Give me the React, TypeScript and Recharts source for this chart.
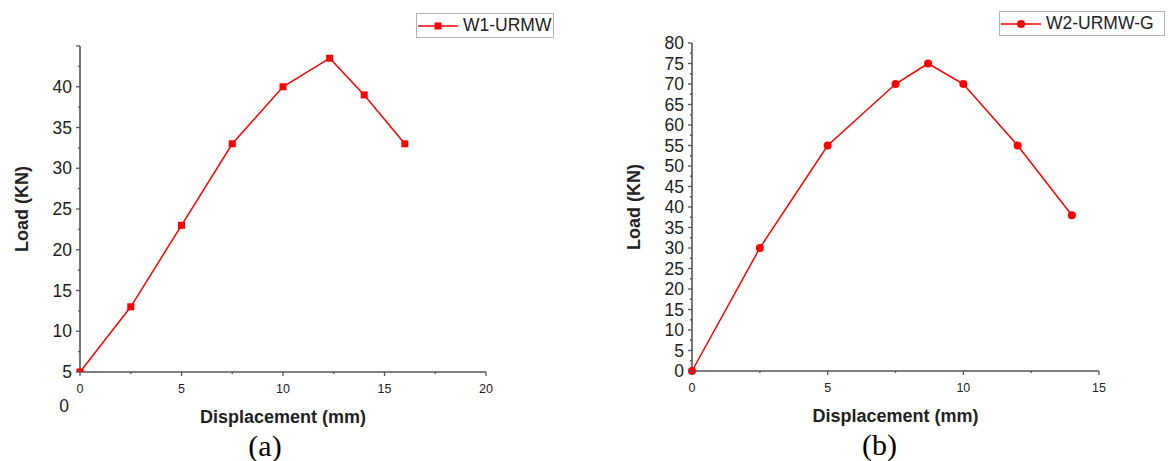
import React from 'react';
import { LineChart, Line, XAxis, YAxis, Legend } from 'recharts';

// ---- data ----
const leftDisp = [0, 2.5, 5, 7.5, 10, 12.3, 14, 16];
const leftLoad = [5, 13, 23, 33, 40, 43.5, 39, 33];
const rightDisp = [0, 2.5, 5, 7.5, 8.7, 10, 12, 14];
const rightLoad = [0, 30, 55, 70, 75, 70, 55, 38];

const leftName = 'W1-URMW';
const rightName = 'W2-URMW-G';

const leftXTicks = [0, 2.5, 5, 7.5, 10, 12.5, 15, 17.5, 20];
const leftXLabels = [0, 5, 10, 15, 20];
const leftYTicks = [5, 7.5, 10, 12.5, 15, 17.5, 20, 22.5, 25, 27.5, 30, 32.5, 35, 37.5, 40, 42.5, 45];
const leftYLabels = [5, 10, 15, 20, 25, 30, 35, 40];

const rightXTicks = [0, 2.5, 5, 7.5, 10, 12.5, 15];
const rightXLabels = [0, 5, 10, 15];
const rightYTicks = [0, 2.5, 5, 7.5, 10, 12.5, 15, 17.5, 20, 22.5, 25, 27.5, 30, 32.5, 35, 37.5, 40, 42.5, 45, 47.5, 50, 52.5, 55, 57.5, 60, 62.5, 65, 67.5, 70, 72.5, 75, 77.5, 80];
const rightYLabels = [0, 5, 10, 15, 20, 25, 30, 35, 40, 45, 50, 55, 60, 65, 70, 75, 80];

const xTitle = 'Displacement (mm)';
const yTitle = 'Load (KN)';

const RED = '#ff0000';
const AXIS = '#555555';
const TEXT = '#222222';
const SANS = '"Liberation Sans", Arial, sans-serif';
const SERIF = '"Liberation Serif", "Times New Roman", serif';

const leftData = leftDisp.map((x, i) => ({ x, y: leftLoad[i] }));
const rightData = rightDisp.map((x, i) => ({ x, y: rightLoad[i] }));

const makeYTick = (labels: number[]) => (props: any) => {
  const { x, y, payload } = props;
  const v = payload.value;
  const major = Math.abs(v % 5) < 1e-9;
  return (
    <g>
      <line x1={x} x2={x - (major ? 4 : 2)} y1={y} y2={y} stroke={AXIS} strokeWidth={1.3} />
      {labels.includes(v) && (
        <text x={x - 8} y={y} textAnchor="end" dominantBaseline="central" fontFamily={SANS} fontSize={17.5} fill={TEXT}>
          {v}
        </text>
      )}
    </g>
  );
};

const makeXTick = (labels: number[]) => (props: any) => {
  const { x, y, payload } = props;
  const v = payload.value;
  const major = Math.abs(v % 5) < 1e-9;
  return (
    <g>
      <line x1={x} x2={x} y1={y} y2={y + (major ? 4 : 2)} stroke={AXIS} strokeWidth={1.3} />
      {labels.includes(v) && (
        <text x={x} y={y + 17} textAnchor="middle" dominantBaseline="central" fontFamily={SANS} fontSize={12.5} fill={TEXT}>
          {v}
        </text>
      )}
    </g>
  );
};

const xLabel = (caption: string, captionDx: number, extra?: (vb: any) => React.ReactNode) => (props: any) => {
  const vb = props.viewBox;
  const cx = vb.x + vb.width / 2;
  return (
    <g>
      <text x={cx} y={vb.y + 45} textAnchor="middle" dominantBaseline="central" fontFamily={SANS} fontWeight="bold" fontSize={18} fill={TEXT}>
        {xTitle}
      </text>
      <text x={cx + captionDx} y={vb.y + 84} textAnchor="middle" fontFamily={SERIF} fontSize={30} fill="#000">
        {caption}
      </text>
      {extra ? extra(vb) : null}
    </g>
  );
};

const yLabel = (px: number) => (props: any) => {
  const vb = props.viewBox;
  const cy = vb.y + vb.height / 2;
  return (
    <text
      x={px}
      y={cy}
      transform={`rotate(-90 ${px} ${cy})`}
      textAnchor="middle"
      dominantBaseline="central"
      fontFamily={SANS}
      fontWeight="bold"
      fontSize={18}
      fill={TEXT}
    >
      {yTitle}
    </text>
  );
};

const LegendBox = ({ label, width, square }: { label: string; width: number; square: boolean }) => (
  <div
    style={{
      boxSizing: 'border-box',
      width,
      height: 25,
      border: '1px solid #b4b4b4',
      background: '#fff',
      display: 'flex',
      alignItems: 'center',
      fontFamily: SANS,
      fontSize: 17.5,
      color: TEXT,
      whiteSpace: 'nowrap',
    }}
  >
    <svg width={40} height={12} style={{ marginLeft: 1, marginRight: 5, flex: 'none' }}>
      <line x1={0} x2={40} y1={6} y2={6} stroke={RED} strokeWidth={1.5} />
      {square ? <rect x={16.5} y={2.5} width={7} height={7} fill={RED} /> : <circle cx={20} cy={6} r={4} fill={RED} />}
    </svg>
    <span>{label}</span>
  </div>
);

const squareDot = (props: any) => {
  const { cx, cy, index } = props;
  return <rect key={`sq-${index}`} x={cx - 3.5} y={cy - 3.5} width={7} height={7} fill={RED} />;
};

export default function App() {
  return (
    <div style={{ position: 'absolute', left: 0, top: 0, width: 1168, height: 461, background: '#fff' }}>
      <div style={{ position: 'absolute', left: 0, top: 0 }}>
        <LineChart width={580} height={461} data={leftData} margin={{ top: 46, right: 94, bottom: 59, left: 20 }}>
          <XAxis
            type="number"
            dataKey="x"
            domain={[0, 20]}
            ticks={leftXTicks}
            interval={0}
            tickSize={0}
            tickMargin={0}
            height={30}
            tick={makeXTick(leftXLabels)}
            tickLine={false}
            axisLine={{ stroke: AXIS, strokeWidth: 1.6 }}
            label={{
              content: xLabel('(a)', -18, (vb: any) => (
                <text x={64} y={vb.y + 34} textAnchor="middle" dominantBaseline="central" fontFamily={SANS} fontSize={17.5} fill={TEXT}>
                  0
                </text>
              )),
            }}
          />
          <YAxis
            type="number"
            domain={[5, 45]}
            ticks={leftYTicks}
            interval={0}
            tickSize={0}
            tickMargin={0}
            width={60}
            tick={makeYTick(leftYLabels)}
            tickLine={false}
            axisLine={{ stroke: AXIS, strokeWidth: 1.6 }}
            allowDataOverflow
            label={{ content: yLabel(22) }}
          />
          <Legend
            verticalAlign="middle"
            align="center"
            layout="horizontal"
            wrapperStyle={{ left: 416, top: 13, width: 138, height: 25 }}
            content={() => <LegendBox label={leftName} width={138} square />}
          />
          <Line
            type="linear"
            dataKey="y"
            name={leftName}
            stroke={RED}
            strokeWidth={1.5}
            dot={squareDot}
            activeDot={false}
            isAnimationActive={false}
          />
        </LineChart>
      </div>
      <div style={{ position: 'absolute', left: 580, top: 0 }}>
        <LineChart width={588} height={461} data={rightData} margin={{ top: 43, right: 69, bottom: 60, left: 52 }}>
          <XAxis
            type="number"
            dataKey="x"
            domain={[0, 15]}
            ticks={rightXTicks}
            interval={0}
            tickSize={0}
            tickMargin={0}
            height={30}
            tick={makeXTick(rightXLabels)}
            tickLine={false}
            axisLine={{ stroke: AXIS, strokeWidth: 1.6 }}
            label={{ content: xLabel('(b)', -16) }}
          />
          <YAxis
            type="number"
            domain={[0, 80]}
            ticks={rightYTicks}
            interval={0}
            tickSize={0}
            tickMargin={0}
            width={60}
            tick={makeYTick(rightYLabels)}
            tickLine={false}
            axisLine={{ stroke: AXIS, strokeWidth: 1.6 }}
            label={{ content: yLabel(54) }}
          />
          <Legend
            verticalAlign="middle"
            align="center"
            layout="horizontal"
            wrapperStyle={{ left: 419, top: 11, width: 166, height: 25 }}
            content={() => <LegendBox label={rightName} width={166} square={false} />}
          />
          <Line
            type="linear"
            dataKey="y"
            name={rightName}
            stroke={RED}
            strokeWidth={1.5}
            dot={{ r: 4, fill: RED, stroke: RED, strokeWidth: 0 }}
            activeDot={false}
            isAnimationActive={false}
          />
        </LineChart>
      </div>
    </div>
  );
}
